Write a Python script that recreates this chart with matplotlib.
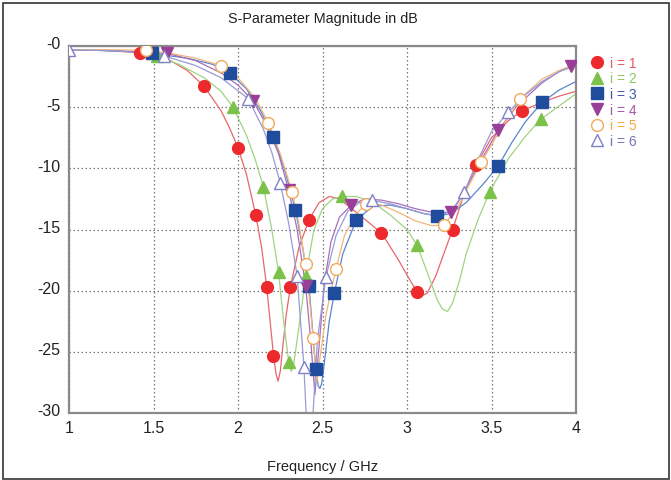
import matplotlib
matplotlib.use("Agg")
import matplotlib.pyplot as plt
from matplotlib.patches import Rectangle
from matplotlib.transforms import ScaledTranslation

plt.rcParams['font.family'] = ['Liberation Sans', 'DejaVu Sans']

# ---- data ----
labels = ["i = 1", "i = 2", "i = 3", "i = 4", "i = 5", "i = 6"]

line1_x = [1.0, 1.2, 1.42, 1.6, 1.7, 1.8, 1.9, 1.95, 2.0, 2.05, 2.105, 2.14, 2.17, 2.19, 2.21, 2.225, 2.237, 2.25, 2.265, 2.285, 2.31, 2.36, 2.42, 2.48, 2.54, 2.6, 2.7, 2.78, 2.85, 2.95, 3.02, 3.06, 3.09, 3.12, 3.17, 3.22, 3.27, 3.34, 3.41, 3.5, 3.6, 3.68, 3.8, 3.9, 4.0]
line1_y = [-0.3, -0.35, -0.55, -1.2, -2.0, -3.3, -5.3, -6.7, -8.3, -10.5, -13.8, -16.5, -19.7, -22.5, -25.3, -26.8, -27.4, -26.6, -24.6, -22.0, -19.7, -16.5, -14.2, -12.8, -12.3, -12.5, -13.6, -14.5, -15.3, -17.5, -19.2, -20.1, -20.4, -20.2, -18.8, -16.9, -15.0, -12.0, -9.7, -7.5, -6.1, -5.3, -4.6, -4.1, -3.7]
mark1_x = [1.42, 1.80, 2.00, 2.105, 2.17, 2.21, 2.31, 2.42, 2.846, 3.06, 3.27, 3.41, 3.68]
mark1_y = [-0.55, -3.3, -8.3, -13.8, -19.7, -25.3, -19.7, -14.2, -15.3, -20.1, -15.0, -9.7, -5.3]

line2_x = [1.0, 1.3, 1.52, 1.65, 1.8, 1.9, 1.97, 2.05, 2.1, 2.15, 2.2, 2.24, 2.27, 2.30, 2.315, 2.33, 2.35, 2.38, 2.40, 2.45, 2.5, 2.56, 2.615, 2.7, 2.8, 2.9, 3.0, 3.06, 3.12, 3.18, 3.21, 3.24, 3.27, 3.31, 3.35, 3.42, 3.49, 3.6, 3.7, 3.79, 3.9, 4.0]
line2_y = [-0.3, -0.4, -0.8, -1.5, -2.6, -3.7, -5.0, -7.3, -9.2, -11.5, -15.0, -18.5, -22.5, -25.8, -26.6, -26.0, -24.0, -21.0, -18.8, -15.0, -13.3, -12.5, -12.3, -12.3, -12.8, -13.8, -15.0, -16.3, -18.5, -20.8, -21.5, -21.7, -21.0, -19.2, -17.0, -14.2, -11.9, -9.2, -7.4, -6.0, -4.9, -3.9]
mark2_x = [1.52, 1.97, 2.15, 2.24, 2.30, 2.40, 2.615, 3.06, 3.49, 3.79]
mark2_y = [-0.8, -5.0, -11.5, -18.5, -25.8, -18.8, -12.3, -16.3, -11.9, -6.0]

line3_x = [1.0, 1.3, 1.49, 1.7, 1.85, 1.95, 2.05, 2.13, 2.21, 2.28, 2.34, 2.38, 2.42, 2.44, 2.46, 2.475, 2.485, 2.495, 2.51, 2.54, 2.57, 2.62, 2.70, 2.8, 2.9, 3.0, 3.1, 3.18, 3.26, 3.35, 3.45, 3.54, 3.62, 3.7, 3.80, 3.9, 4.0]
line3_y = [-0.3, -0.4, -0.6, -1.0, -1.5, -2.2, -3.5, -5.2, -7.4, -10.3, -13.4, -16.3, -19.6, -23.0, -26.4, -27.8, -28.0, -27.6, -26.0, -22.5, -20.2, -17.0, -14.2, -13.1, -13.0, -13.3, -13.7, -13.9, -13.7, -12.8, -11.3, -9.8, -7.9, -6.2, -4.6, -3.6, -2.9]
mark3_x = [1.49, 1.95, 2.21, 2.34, 2.42, 2.46, 2.57, 2.70, 3.18, 3.54, 3.80]
mark3_y = [-0.6, -2.2, -7.4, -13.4, -19.6, -26.4, -20.2, -14.2, -13.9, -9.8, -4.6]

line4_x = [1.0, 1.3, 1.58, 1.75, 1.9, 2.0, 2.09, 2.17, 2.24, 2.30, 2.35, 2.40, 2.43, 2.455, 2.48, 2.51, 2.55, 2.6, 2.67, 2.75, 2.85, 2.95, 3.05, 3.15, 3.26, 3.34, 3.44, 3.54, 3.65, 3.8, 3.9, 3.97, 4.0]
line4_y = [-0.3, -0.4, -0.6, -1.2, -2.2, -3.2, -4.5, -6.5, -8.8, -11.8, -15.0, -19.6, -24.0, -28.5, -24.5, -19.5, -16.0, -14.0, -13.0, -12.5, -12.6, -12.9, -13.3, -13.6, -13.6, -11.9, -9.3, -6.9, -4.9, -3.0, -2.1, -1.6, -1.4]
mark4_x = [1.58, 2.09, 2.30, 2.40, 2.67, 3.26, 3.54, 3.97]
mark4_y = [-0.6, -4.5, -11.8, -19.6, -13.0, -13.6, -6.9, -1.6]

line5_x = [1.0, 1.2, 1.455, 1.6, 1.75, 1.90, 2.0, 2.1, 2.18, 2.25, 2.32, 2.36, 2.40, 2.425, 2.445, 2.465, 2.49, 2.52, 2.58, 2.63, 2.70, 2.76, 2.85, 2.95, 3.05, 3.15, 3.22, 3.3, 3.37, 3.44, 3.55, 3.67, 3.8, 3.9, 4.0]
line5_y = [-0.3, -0.3, -0.35, -0.6, -1.0, -1.6, -2.6, -4.2, -6.3, -8.8, -11.9, -14.5, -17.8, -21.0, -23.9, -27.5, -25.0, -22.0, -18.2, -15.5, -13.7, -12.9, -13.0, -13.6, -14.3, -14.7, -14.6, -13.2, -11.3, -9.5, -6.9, -4.3, -2.7, -2.0, -1.5]
mark5_x = [1.455, 1.90, 2.18, 2.32, 2.40, 2.445, 2.58, 2.76, 3.22, 3.44, 3.67]
mark5_y = [-0.35, -1.6, -6.3, -11.9, -17.8, -23.9, -18.2, -12.9, -14.6, -9.5, -4.3]

line6_x = [1.0, 1.3, 1.56, 1.75, 1.9, 2.06, 2.15, 2.2, 2.25, 2.3, 2.35, 2.39, 2.41, 2.425, 2.44, 2.47, 2.52, 2.58, 2.65, 2.72, 2.79, 2.9, 3.0, 3.1, 3.2, 3.28, 3.34, 3.42, 3.5, 3.60, 3.7, 3.8, 3.9, 4.0]
line6_y = [-0.3, -0.4, -0.8, -1.6, -2.6, -4.3, -6.8, -8.7, -11.2, -14.5, -18.8, -26.2, -32.0, -34.0, -31.0, -24.0, -18.9, -15.5, -13.5, -12.8, -12.6, -12.9, -13.3, -13.7, -13.9, -13.3, -11.9, -9.3, -7.0, -5.4, -4.0, -2.9, -2.1, -1.6]
mark6_x = [1.0, 1.56, 2.06, 2.25, 2.35, 2.39, 2.52, 2.79, 3.34, 3.60]
mark6_y = [-0.3, -0.8, -4.3, -11.2, -18.8, -26.2, -18.9, -12.6, -11.9, -5.4]

x_ticks = [1, 1.5, 2, 2.5, 3, 3.5, 4]
x_tick_labels = ["1", "1.5", "2", "2.5", "3", "3.5", "4"]
y_ticks = [0, -5, -10, -15, -20, -25, -30]
y_tick_labels = ["-0", "-5", "-10", "-15", "-20", "-25", "-30"]

# ---- styles ----
lines = [(line1_x, line1_y), (line2_x, line2_y), (line3_x, line3_y),
         (line4_x, line4_y), (line5_x, line5_y), (line6_x, line6_y)]
marks = [(mark1_x, mark1_y), (mark2_x, mark2_y), (mark3_x, mark3_y),
         (mark4_x, mark4_y), (mark5_x, mark5_y), (mark6_x, mark6_y)]
line_colors = ['#e8666a', '#9fd483', '#5a86cc', '#a86fb8', '#f2b57a', '#9a9ad6']
mk = ['o', '^', 's', 'v', 'o', '^']
mfc = ['#ec2a2e', '#7cc24a', '#1f4c9c', '#9a3f98', 'white', 'white']
mec = ['#ec2a2e', '#7cc24a', '#1f4c9c', '#9a3f98', '#f0a85a', '#7f80c6']
msz = [8.5, 8.5, 8, 8.5, 8.5, 9]
text_colors = ['#e85a5e', '#8cc864', '#3d5ca8', '#a458a8', '#f0a848', '#7474b8']

fig = plt.figure(figsize=(6.71, 4.81), dpi=100)
ax = fig.add_axes([69/671, 1-414/481, (576-69)/671, (414-47)/481])

for i in range(6):
    ax.plot(lines[i][0], lines[i][1], color=line_colors[i], lw=0.9, zorder=2,
            solid_joinstyle='round')
for i in range(6):
    ax.plot(marks[i][0], marks[i][1], ls='none', marker=mk[i], ms=msz[i],
            mfc=mfc[i], mec=mec[i], mew=1.0, zorder=3, label=labels[i])

ax.set_xlim(1, 4)
ax.set_ylim(-30, 0)
ax.set_xticks(x_ticks)
ax.set_xticklabels(x_tick_labels)
ax.set_yticks(y_ticks)
ax.set_yticklabels(y_tick_labels, va='center')
ax.tick_params(axis='both', length=0, labelsize=11.5, colors='#222222')
ax.tick_params(axis='x', pad=5)
ax.tick_params(axis='y', pad=6)
shift = ScaledTranslation(0, 2/100, fig.dpi_scale_trans)
for lbl in ax.get_yticklabels():
    lbl.set_transform(lbl.get_transform() + shift)
ax.grid(True, color='#777777', ls=(0, (1.2, 2)), lw=0.9)
for s in ax.spines.values():
    s.set_color('#8a8a8a')
    s.set_linewidth(1.6)

ax.set_title("S-Parameter Magnitude in dB", fontsize=10.4, pad=17, color='#222222')
ax.set_xlabel("Frequency / GHz", fontsize=10.5, labelpad=17, color='#222222')

leg = ax.legend(loc='upper left', bbox_to_anchor=(1.006, 1.0), frameon=False,
                fontsize=10, handletextpad=0.35, labelspacing=0.12,
                handlelength=1.2, borderaxespad=0.3)
for t, c in zip(leg.get_texts(), text_colors):
    t.set_color(c)

fig.add_artist(Rectangle((3/671, 1/481), 666/671, 476/481, transform=fig.transFigure,
                         fill=False, ec='#333333', lw=1.2))

fig.savefig("out.png", dpi=100)
